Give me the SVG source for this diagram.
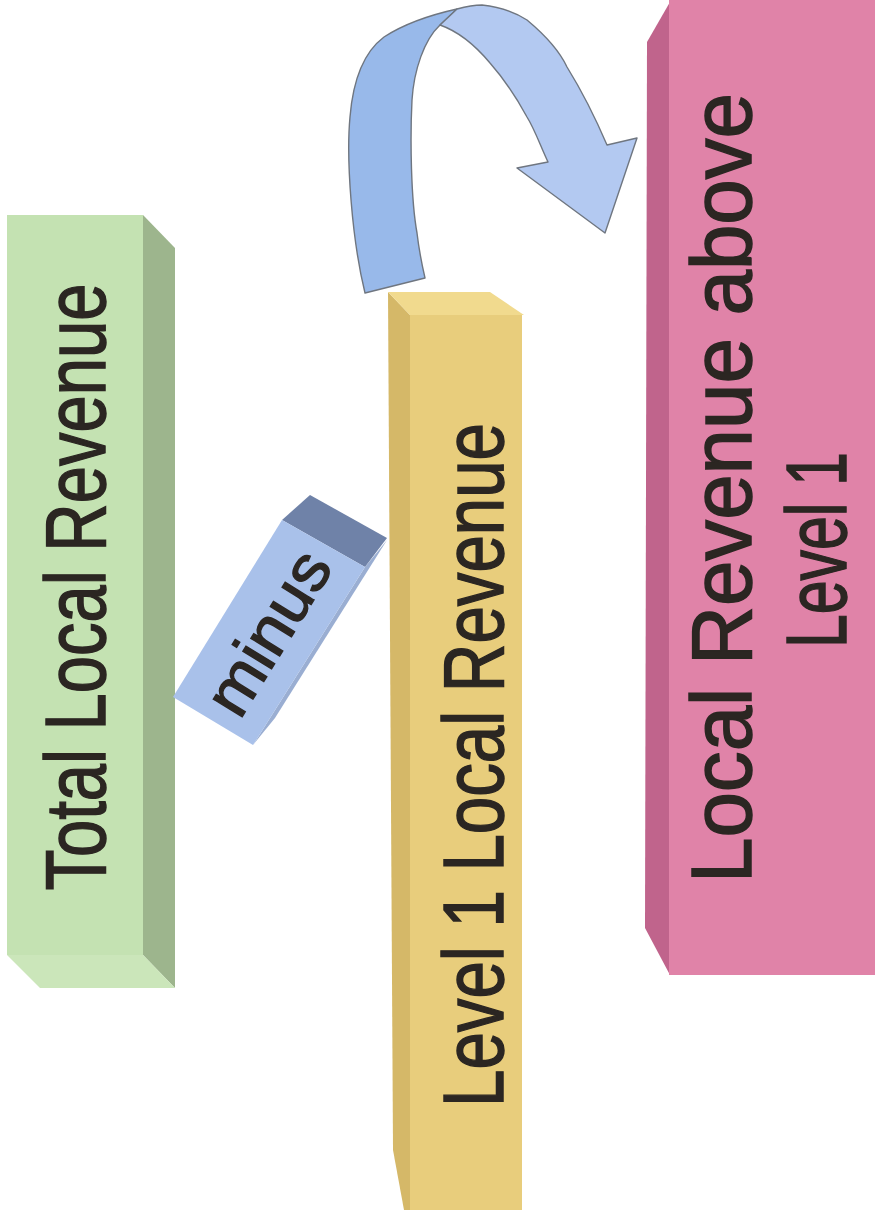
<svg xmlns="http://www.w3.org/2000/svg" width="875" height="1212" viewBox="0 0 875 1212">
<style>
.lbl{font-family:"Liberation Sans",Arial,sans-serif;font-size:85px;fill:#2b2622;stroke:#2b2622;stroke-width:1.5;text-anchor:middle}
.arrow{stroke:#6f7680;stroke-width:1.4;stroke-linejoin:round}
</style>
<rect width="875" height="1212" fill="#ffffff"/>
<g id="node-total">
<polygon points="143,215 175,248 175,988 143,955" fill="#9db58d"/>
<polygon points="7,955 143,955 175,988 40,988" fill="#cbe6ba"/>
<rect x="7" y="215" width="136" height="740" fill="#c4e2b2"/>
<text class="lbl" transform="translate(105,587) rotate(-90)" textLength="607" lengthAdjust="spacingAndGlyphs">Total Local Revenue</text>
</g>
<g id="node-minus">
<polygon points="365,567 387,540 275,718 253,745" fill="#9aaed2"/>
<polygon points="282,520 310,495 387,538 365,567" fill="#6f82a8"/>
<polygon points="282,520 365,567 253,745 173,697" fill="#a9c1ea"/>
<text class="lbl" style="font-size:64px;stroke-width:1.3" transform="translate(287,644) rotate(-58.4)" textLength="180" lengthAdjust="spacingAndGlyphs">minus</text>
</g>
<g id="node-level1">
<polygon points="388,292 410,315 410,1210 404,1210 393,1150" fill="#d5b868"/>
<polygon points="388,292 490,292 524,315 410,315" fill="#f1da8e"/>
<rect x="410" y="315" width="112" height="895" fill="#e8cd7c"/>
<text class="lbl" transform="translate(503,765) rotate(-90)" textLength="684" lengthAdjust="spacingAndGlyphs">Level 1 Local Revenue</text>
</g>
<g id="node-above">
<polygon points="647,42 670,2 670,975 645,928" fill="#c0648c"/>
<rect x="669" y="0" width="206" height="975" fill="#e083a8"/>
<text class="lbl" transform="translate(751,488) rotate(-90)" textLength="790" lengthAdjust="spacingAndGlyphs">Local Revenue above</text>
<text class="lbl" transform="translate(846,550) rotate(-90)" textLength="196" lengthAdjust="spacingAndGlyphs">Level 1</text>
</g>
<g id="connectors">
<path class="arrow" fill="#98b9ea" d="M365,293 C352,240 346,160 350,117 C353,80 364,52 384,37 C404,24 430,15 457,9 L440,25 C424,40 414,70 412,100 C410,140 411,200 417,233 C419,250 422,265 425,278 Z"/>
<path class="arrow" fill="#b3c9f1" d="M457,9 C468,6 476,5 482,5 C500,7 515,12 527,20 C545,35 560,52 567,67 C580,88 592,110 607,145 L637,138 L605,233 L517,168 L548,162 C540,145 535,130 527,117 C515,95 505,80 490,63 C475,45 460,32 440,25 Z"/>
</g>
</svg>
